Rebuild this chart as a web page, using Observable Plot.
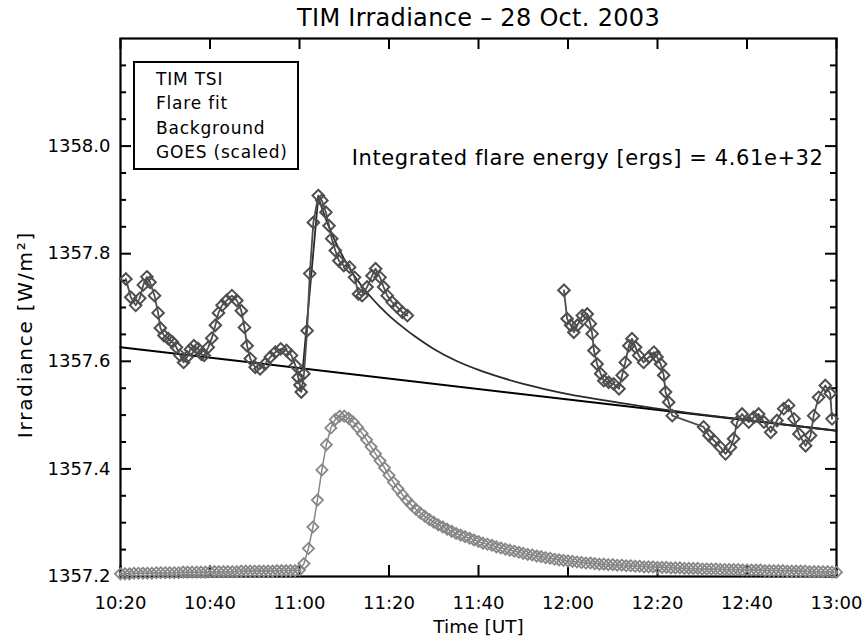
<!DOCTYPE html>
<html><head><meta charset="utf-8">
<script src="https://cdn.jsdelivr.net/npm/d3@7"></script>
<script src="https://cdn.jsdelivr.net/npm/@observablehq/plot@0.6"></script>
<style>
body{margin:0;background:#fff;}
#chart{width:863px;height:642px;}
svg text{font-family:"DejaVu Sans",sans-serif;}
</style></head><body><div id="chart"></div>
<script>
// ---------- data (minutes after 10:20 UT) ----------
const titleText = "TIM Irradiance \u2013 28 Oct. 2003";
const xLabel = "Time [UT]";
const yLabel = "Irradiance [W/m\u00B2]";
const legendLabels = ["TIM TSI", "Flare fit", "Background", "GOES (scaled)"];
const annotationText = "Integrated flare energy [ergs] = 4.61e+32";
const annotationPos = [157.1, 1357.977];

const xTickMinutes = [0, 20, 40, 60, 80, 100, 120, 140, 160];
const xTickLabels = ["10:20","10:40","11:00","11:20","11:40","12:00","12:20","12:40","13:00"];
const yMajorTicks = [1357.2, 1357.4, 1357.6, 1357.8, 1358.0];
const yMinorTicks = [1357.25,1357.3,1357.35,1357.45,1357.5,1357.55,1357.65,1357.7,1357.75,1357.85,1357.9,1357.95,1358.05,1358.1,1358.15];

// TIM TSI, first segment
const timMinutesA = [1.2,2.3,3.4,4.3,5.1,5.9,6.6,7.6,8.4,8.9,9.7,10.7,11.6,12.5,13.3,14.1,14.9,15.6,16.4,17.3,18.1,18.7,19.6,20.4,21.2,21.9,22.7,23.7,24.9,26.0,27.0,27.7,28.3,29.0,30.1,31.2,32.3,33.5,34.6,35.8,37.1,38.2,39.1,39.7,40.1,40.4,41.0,41.7,42.3,43.1,44.2,45.0,45.9,46.6,47.2,48.0,48.8,49.9,51.2,52.3,53.2,54.0,55.1,56.2,57.0,58.0,58.8,59.6,60.7,61.8,63.0,64.1];
const timValuesA = [1357.753,1357.719,1357.704,1357.717,1357.742,1357.757,1357.747,1357.722,1357.690,1357.662,1357.648,1357.642,1357.636,1357.626,1357.611,1357.598,1357.608,1357.622,1357.629,1357.624,1357.613,1357.611,1357.626,1357.643,1357.667,1357.690,1357.704,1357.713,1357.722,1357.713,1357.694,1357.663,1357.629,1357.605,1357.589,1357.586,1357.595,1357.608,1357.617,1357.623,1357.620,1357.611,1357.592,1357.570,1357.556,1357.543,1357.577,1357.657,1357.763,1357.858,1357.908,1357.899,1357.877,1357.852,1357.828,1357.806,1357.787,1357.778,1357.775,1357.756,1357.725,1357.722,1357.738,1357.759,1357.772,1357.756,1357.738,1357.722,1357.710,1357.701,1357.691,1357.685];
// TIM TSI, second segment
const timMinutesB = [99.1,99.8,100.6,101.3,102.1,103.2,104.3,105.0,105.4,105.8,106.5,107.3,108.0,109.1,110.2,111.4,112.1,112.8,113.6,114.3,115.1,115.8,116.9,118.1,119.2,119.9,120.7,121.4,121.8,122.5,123.3,130.3,131.5,132.6,134.1,135.2,136.3,137.0,137.8,138.9,140.4,141.5,142.6,143.8,145.3,146.7,148.2,149.3,150.5,151.6,153.1,154.2,154.9,156.0,157.5,158.6,159.0];
const timValuesB = [1357.732,1357.679,1357.667,1357.654,1357.667,1357.685,1357.688,1357.670,1357.651,1357.620,1357.595,1357.577,1357.564,1357.561,1357.558,1357.549,1357.574,1357.598,1357.629,1357.642,1357.626,1357.611,1357.598,1357.608,1357.617,1357.608,1357.595,1357.574,1357.543,1357.524,1357.499,1357.478,1357.462,1357.453,1357.440,1357.428,1357.440,1357.456,1357.487,1357.502,1357.487,1357.496,1357.502,1357.487,1357.468,1357.490,1357.512,1357.518,1357.493,1357.465,1357.443,1357.462,1357.499,1357.533,1357.555,1357.540,1357.493];

// Flare fit
const fitRiseMinutes = [40.7, 44.2];
const fitRiseValues = [1357.583, 1357.905];
const fitDecayMinutes = [44.2,46,48,50,52,54,56,58,60,63,66,70,75,80,85,90,95,100,110,120,130,140,150,160];
const fitDecayValues = [1357.905,1357.862,1357.823,1357.790,1357.762,1357.739,1357.719,1357.701,1357.685,1357.664,1357.645,1357.623,1357.601,1357.584,1357.570,1357.558,1357.548,1357.539,1357.525,1357.512,1357.501,1357.491,1357.481,1357.471];

// Background
const bgMinutes = [0, 160];
const bgValues = [1357.626, 1357.471];

// GOES (scaled), one sample per minute from 10:20
const goesValues = [
1357.205,1357.205,1357.205,1357.206,1357.206,1357.206,1357.206,1357.206,1357.207,1357.207,
1357.207,1357.207,1357.207,1357.207,1357.208,1357.208,1357.208,1357.208,1357.208,1357.208,
1357.209,1357.209,1357.209,1357.209,1357.209,1357.209,1357.209,1357.210,1357.210,1357.210,
1357.210,1357.210,1357.210,1357.210,1357.210,1357.211,1357.211,1357.211,1357.211,1357.211,
1357.212,
1357.224,1357.252,1357.292,1357.342,1357.398,1357.445,1357.476,1357.492,1357.498,1357.498,
1357.494,1357.487,1357.477,1357.466,1357.454,1357.441,1357.428,1357.415,1357.402,1357.388,
1357.375,1357.363,1357.352,1357.342,1357.333,1357.325,1357.318,1357.312,1357.306,1357.301,
1357.296,1357.292,1357.288,1357.284,1357.280,1357.277,1357.274,1357.271,1357.268,1357.265,
1357.262,1357.260,1357.258,1357.255,1357.253,1357.251,1357.249,1357.247,1357.245,1357.243,
1357.241,1357.240,1357.238,1357.237,1357.235,1357.234,1357.232,1357.231,1357.230,1357.229,
1357.228,1357.227,1357.226,1357.225,1357.225,1357.224,1357.223,1357.223,1357.222,1357.222,
1357.221,1357.221,1357.220,1357.220,1357.219,1357.219,1357.218,1357.218,1357.218,1357.217,
1357.217,1357.217,1357.216,1357.216,1357.216,1357.215,1357.215,1357.215,1357.215,1357.214,
1357.214,1357.214,1357.214,1357.213,1357.213,1357.213,1357.213,1357.213,1357.212,1357.212,
1357.212,1357.212,1357.212,1357.211,1357.211,1357.211,1357.211,1357.211,1357.210,1357.210,
1357.210,1357.210,1357.210,1357.209,1357.209,1357.209,1357.209,1357.209,1357.208,1357.208];

// ---------- tables ----------
const tim = [
  ...timMinutesA.map((t, i) => ({t, v: timValuesA[i], seg: "a"})),
  ...timMinutesB.map((t, i) => ({t, v: timValuesB[i], seg: "b"}))
];
const fit = [
  ...fitRiseMinutes.map((t, i) => ({t, v: fitRiseValues[i], part: "rise"})),
  ...fitDecayMinutes.map((t, i) => ({t, v: fitDecayValues[i], part: "decay"}))
];
const bg = bgMinutes.map((t, i) => ({t, v: bgValues[i]}));
const goes = goesValues.map((v, i) => ({t: i, v}));

// ---------- layout ----------
const W = 863, H = 642, mT = 38, mB = 66, mL = 120, mR = 27;
const fh = H - mT - mB, fw = W - mL - mR;
const majorLen = 11, minorLen = 6;
const TIM_C = "#4e4e4e", GOES_C = "#878787";

const chart = Plot.plot({
  width: W, height: H,
  marginTop: mT, marginBottom: mB, marginLeft: mL, marginRight: mR,
  style: {fontFamily: "DejaVu Sans", fontSize: "18px", color: "#000", background: "#fff", overflow: "visible"},
  x: {domain: [0, 160]},
  y: {domain: [1357.2, 1358.2]},
  marks: [
    Plot.axisX({ticks: xTickMinutes, tickFormat: d => xTickLabels[xTickMinutes.indexOf(d)], tickSize: 0, tickPadding: 20, label: null, fontSize: 18}),
    Plot.axisY({ticks: yMajorTicks, tickFormat: d => d.toFixed(1), tickSize: 0, tickPadding: 10, label: null, fontSize: 18}),
    // inward ticks on all four sides
    Plot.ruleX(xTickMinutes, {x: d => d, insetTop: fh - majorLen, stroke: "#000", strokeWidth: 2}),
    Plot.ruleX(xTickMinutes, {x: d => d, insetBottom: fh - majorLen, stroke: "#000", strokeWidth: 2}),
    Plot.ruleY(yMajorTicks, {y: d => d, insetRight: fw - majorLen, stroke: "#000", strokeWidth: 2}),
    Plot.ruleY(yMajorTicks, {y: d => d, insetLeft: fw - majorLen, stroke: "#000", strokeWidth: 2}),
    Plot.ruleY(yMinorTicks, {y: d => d, insetRight: fw - minorLen, stroke: "#000", strokeWidth: 2}),
    Plot.ruleY(yMinorTicks, {y: d => d, insetLeft: fw - minorLen, stroke: "#000", strokeWidth: 2}),
    Plot.frame({stroke: "#000", strokeWidth: 2.2}),
    // GOES
    Plot.line(goes, {x: "t", y: "v", stroke: GOES_C, strokeWidth: 1.5}),
    Plot.dot(goes, {x: "t", y: "v", symbol: "diamond2", r: 5, stroke: GOES_C, strokeWidth: 1.8, fill: "none"}),
    // Background and flare fit
    Plot.line(bg, {x: "t", y: "v", stroke: "#000", strokeWidth: 2}),
    Plot.line(fit, {x: "t", y: "v", z: "part", curve: "monotone-x", stroke: "#2a2a2a", strokeWidth: 1.8}),
    // TIM TSI
    Plot.line(tim, {x: "t", y: "v", z: "seg", stroke: TIM_C, strokeWidth: 1.8}),
    Plot.dot(tim, {x: "t", y: "v", symbol: "diamond2", r: 5.2, stroke: TIM_C, strokeWidth: 2, fill: "none"}),
    // texts
    Plot.text([titleText], {frameAnchor: "top", dy: -20, textAnchor: "middle", lineAnchor: "middle", text: d => d, fontSize: 24}),
    Plot.text([xLabel], {frameAnchor: "bottom", dy: 51, textAnchor: "middle", lineAnchor: "middle", text: d => d, fontSize: 18.5}),
    Plot.text([yLabel], {frameAnchor: "left", dx: -95, dy: 27, textAnchor: "middle", lineAnchor: "middle", rotate: -90, text: d => d, fontSize: 20}),
    Plot.text([annotationText], {x: () => annotationPos[0], y: () => annotationPos[1], text: d => d, textAnchor: "end", lineAnchor: "middle", fontSize: 21})
  ]
});
document.getElementById("chart").appendChild(chart);

// legend box (text only, as in the original)
const svg = d3.select(chart);
const lg = svg.append("g");
lg.append("rect").attr("x", 134).attr("y", 62).attr("width", 164).attr("height", 107)
  .attr("fill", "#fff").attr("stroke", "#000").attr("stroke-width", 2);
legendLabels.forEach((s, i) => {
  lg.append("text").attr("x", 156).attr("y", 85 + i * 24.3)
    .attr("text-anchor", "start").attr("font-size", 17).attr("letter-spacing", "0.8px")
    .attr("fill", "#000").text(s);
});
// wider lettering, like the original plotting font
const spacing = new Map([[titleText, "0.3px"], [annotationText, "0.6px"], [yLabel, "1.8px"]]);
svg.selectAll("text").each(function() {
  const s = spacing.get(this.textContent);
  if (s) d3.select(this).attr("letter-spacing", s);
});
</script></body></html>
